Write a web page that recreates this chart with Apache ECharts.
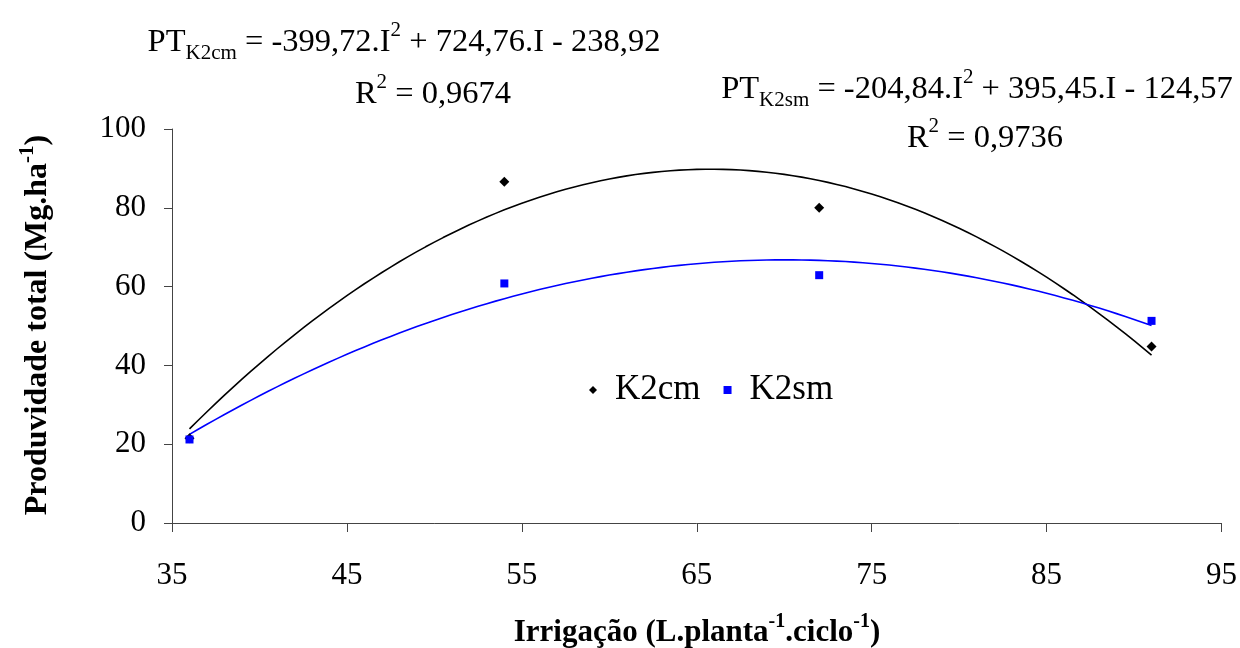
<!DOCTYPE html>
<html>
<head>
<meta charset="utf-8">
<script src="https://cdn.jsdelivr.net/npm/echarts@6/dist/echarts.min.js"></script>
<style>
  html, body { margin: 0; padding: 0; background: #fff; }
  #chart { width: 1240px; height: 648px; }
</style>
</head>
<body>
<div id="chart"></div>
<script>
// Irrigation levels (L per plant per cycle) and total yield (Mg/ha)
const irrigacao = [36, 54, 72, 91];
const k2cm = [21.5, 86.6, 80.0, 44.8];
const k2sm = [21.2, 60.8, 62.9, 51.3];
const seriesNames = ['K2cm', 'K2sm'];
const xTicks = [35, 45, 55, 65, 75, 85, 95];
const yTicks = [0, 20, 40, 60, 80, 100];

// Second-order least-squares trendline through the observed points
function quadFit(xs, ys) {
  let n = xs.length, s = [0, 0, 0, 0, 0], t = [0, 0, 0];
  for (let i = 0; i < n; i++) {
    const x = xs[i], y = ys[i];
    for (let k = 0; k < 5; k++) s[k] += Math.pow(x, k);
    for (let k = 0; k < 3; k++) t[k] += Math.pow(x, k) * y;
  }
  // normal equations, solved by Cramer's rule
  const M = [[s[0], s[1], s[2]], [s[1], s[2], s[3]], [s[2], s[3], s[4]]];
  const det = m => m[0][0]*(m[1][1]*m[2][2]-m[1][2]*m[2][1]) - m[0][1]*(m[1][0]*m[2][2]-m[1][2]*m[2][0]) + m[0][2]*(m[1][0]*m[2][1]-m[1][1]*m[2][0]);
  const D = det(M);
  const coef = [0, 1, 2].map(c => det(M.map((row, r) => row.map((v, j) => j === c ? t[r] : v))) / D);
  return coef; // c0 + c1 x + c2 x^2
}
function trendPoints(xs, ys) {
  const c = quadFit(xs, ys);
  const pts = [];
  const x0 = xs[0], x1 = xs[xs.length - 1];
  for (let x = x0; x <= x1 + 1e-9; x += 0.5) pts.push([x, c[0] + c[1]*x + c[2]*x*x]);
  return pts;
}

const serif = 'Liberation Serif';
const FS_TICK = 31;
const richBase = {
  n: { fontFamily: serif, fontSize: 32.5, lineHeight: 44, color: '#000' },
  sub: { fontFamily: serif, fontSize: 21, lineHeight: 17, verticalAlign: 'bottom', color: '#000' },
  sup: { fontFamily: serif, fontSize: 21, lineHeight: 23, verticalAlign: 'top', color: '#000' },
  bx: { fontFamily: serif, fontSize: 31, lineHeight: 42, color: '#000', fontWeight: 'bold' },
  bxsup: { fontFamily: serif, fontSize: 20, lineHeight: 22, verticalAlign: 'top', color: '#000', fontWeight: 'bold' },
  by: { fontFamily: serif, fontSize: 32, lineHeight: 42, color: '#000', fontWeight: 'bold' },
  bysup: { fontFamily: serif, fontSize: 21, lineHeight: 22, verticalAlign: 'top', color: '#000', fontWeight: 'bold' }
};

const chart = echarts.init(document.getElementById('chart'), null, { renderer: 'canvas' });

function textEl(x, y, text, opts) {
  return Object.assign({
    type: 'text', x: x, y: y, silent: true,
    style: { text: text, rich: richBase, fill: '#000', align: 'center', verticalAlign: 'middle' }
  }, opts || {});
}

chart.setOption({
  backgroundColor: '#fff',
  animation: false,
  grid: { left: 172, right: 18, top: 129, bottom: 125, containLabel: false },
  xAxis: {
    type: 'value', min: 35, max: 95, interval: 10,
    axisLine: { lineStyle: { color: '#444', width: 1 } },
    axisTick: { show: true, length: 9, lineStyle: { color: '#444' } },
    axisLabel: { fontFamily: serif, fontSize: FS_TICK, color: '#000', margin: 37,
      formatter: v => xTicks.indexOf(v) >= 0 ? String(v) : '' },
    splitLine: { show: false }
  },
  yAxis: {
    type: 'value', min: 0, max: 100, interval: 20,
    axisLine: { show: true, lineStyle: { color: '#444', width: 1 } },
    axisTick: { show: true, length: 8, lineStyle: { color: '#444' } },
    axisLabel: { fontFamily: serif, fontSize: FS_TICK, color: '#000', margin: 26,
      formatter: v => yTicks.indexOf(v) >= 0 ? String(v) : '' },
    splitLine: { show: false }
  },
  legend: {
    data: [
      { name: seriesNames[0], icon: 'diamond', itemStyle: { color: '#000', opacity: 1 } },
      { name: seriesNames[1], icon: 'rect', itemStyle: { color: '#0000ff', opacity: 1 } }
    ],
    left: 589, top: 372, padding: 0,
    itemWidth: 8, itemHeight: 8, itemGap: 23,
    textStyle: { fontFamily: serif, fontSize: 35, lineHeight: 36, color: '#000', padding: [0, 0, 0, 13] },
    selectedMode: false
  },
  series: [
    {
      name: seriesNames[0] + ' tendência', type: 'line', showSymbol: false, silent: true,
      data: trendPoints(irrigacao, k2cm), smooth: false,
      lineStyle: { color: '#000', width: 1.6 }, z: 2
    },
    {
      name: seriesNames[1] + ' tendência', type: 'line', showSymbol: false, silent: true,
      data: trendPoints(irrigacao, k2sm), smooth: false,
      lineStyle: { color: '#0000ff', width: 1.6 }, z: 2
    },
    {
      name: seriesNames[0], type: 'scatter', symbol: 'diamond', symbolSize: 10,
      itemStyle: { color: '#000', opacity: 1 }, z: 3,
      data: irrigacao.map((x, i) => [x, k2cm[i]])
    },
    {
      name: seriesNames[1], type: 'scatter', symbol: 'rect', symbolSize: 8,
      itemStyle: { color: '#0000ff', opacity: 1 }, z: 4,
      data: irrigacao.map((x, i) => [x, k2sm[i]])
    }
  ],
  graphic: [
    textEl(404, 42, '{n|PT}{sub|K2cm}{n| = -399,72.I}{sup|2}{n| + 724,76.I - 238,92}'),
    textEl(433, 94, '{n|R}{sup|2}{n| = 0,9674}'),
    textEl(977, 89, '{n|PT}{sub|K2sm}{n| = -204,84.I}{sup|2}{n| + 395,45.I - 124,57}'),
    textEl(985, 138, '{n|R}{sup|2}{n| = 0,9736}'),
    textEl(697, 633, '{bx|Irrigação (L.planta}{bxsup|-1}{bx|.ciclo}{bxsup|-1}{bx|)}'),
    textEl(38, 325, '{by|Produvidade total (Mg.ha}{bysup|-1}{by|)}', { rotation: Math.PI / 2 })
  ]
});
</script>
</body>
</html>
